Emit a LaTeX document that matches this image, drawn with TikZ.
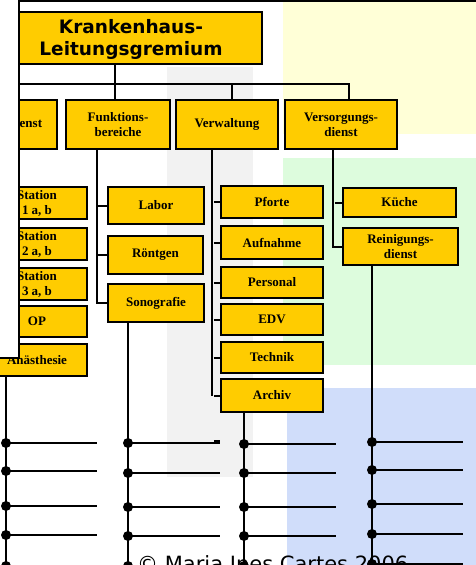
\documentclass[tikz,border=0pt]{standalone}
\usepackage{fontspec}
\setmainfont{Liberation Serif}
\newfontfamily\headfont{DejaVu Sans}
\definecolor{boxyellow}{HTML}{FFCC00}
\definecolor{bggray}{HTML}{F2F2F2}
\definecolor{bgyellow}{HTML}{FFFFD7}
\definecolor{bggreen}{HTML}{DDFCDD}
\definecolor{bgblue}{HTML}{D0DDFA}
\tikzset{
  unit/.style={draw=black, line width=2.4pt, fill=boxyellow, inner sep=0pt,
    align=center, font=\bfseries\fontsize{13}{15}\selectfont},
  sz/.style 2 args={minimum width=#1pt, minimum height=#2pt},
  link/.style={draw=black, line width=2pt},
  frame/.style={draw=black, line width=2.2pt},
  dot/.style={circle, fill=black, minimum size=10pt, inner sep=0pt},
}
\begin{document}
\begin{tikzpicture}[x=1pt,y=-1pt]
\useasboundingbox (0,0) rectangle (476,565);
\clip (0,0) rectangle (476,565);

% coloured background panels
\fill[bggray]   (167,67)  rectangle (253,477);
\fill[bgyellow] (283,2)   rectangle (476,134);
\fill[bggreen]  (283,158) rectangle (476,365);
\fill[bgblue]   (287,388) rectangle (476,565);

% Pflegedienst column, partly covered by the left panel
\node[unit, sz={97}{49}]  (pd)  at (8.5,124.5) {Pflegedienst};
\node[unit, sz={100}{32}] (st1) at (37,203)   {Station\\1 a, b};
\node[unit, sz={100}{32}] (st2) at (37,244)   {Station\\2 a, b};
\node[unit, sz={100}{32}] (st3) at (37,284)   {Station\\3 a, b};
\node[unit, sz={100}{31}] (op)  at (37,321.5) {OP};
\node[unit, sz={100}{32}] (an)  at (37,360)   {Anästhesie};

% left panel with its frame
\fill[white] (-5,-5) rectangle (19,358);
\draw[frame] (480,1) -- (19,1) -- (19,358) -- (-5,358);

% top box
\node[unit, sz={243}{52}] (kh) at (140.5,38) {};
\node[font=\headfont\bfseries\fontsize{18.5}{22}\selectfont, align=center, inner sep=0pt]
  (khtext) at (131,39) {Krankenhaus-\\Leitungsgremium};

% second level
\node[unit, sz={104}{49}] (fb) at (118,124.5) {Funktions-\\bereiche};
\node[unit, sz={102}{49}] (vw) at (227,124.5) {Verwaltung};
\node[unit, sz={112}{49}] (vd) at (341,124.5) {Versorgungs-\\dienst};

\coordinate (jl) at (19,84);
\coordinate (jf) at (115,84);
\coordinate (jv) at (232,84);
\coordinate (jd) at (349,84);
\draw[link] (kh.south -| jf) -- (jf |- fb.north);
\draw[link] (jl) -- (jd) -- (jd |- vd.north);
\draw[link] (jv) -- (jv |- vw.north);

% Funktionsbereiche
\node[unit, sz={96}{37}] (lab) at (156,205.5) {Labor};
\node[unit, sz={95}{38}] (rg)  at (155.5,255) {Röntgen};
\node[unit, sz={96}{38}] (so)  at (156,303)   {Sonografie};
\coordinate (fx) at (97,0);
\draw[link] (fb.south -| fx) -- (fx |- so.west) -- (so.west);
\draw[link] (fx |- lab.west) -- (lab.west);
\draw[link] (fx |- rg.west) -- (rg.west);

% Verwaltung
\node[unit, sz={102}{32}] (pf)  at (272,202)   {Pforte};
\node[unit, sz={102}{33}] (au)  at (272,242.5) {Aufnahme};
\node[unit, sz={102}{31}] (pe)  at (272,282.5) {Personal};
\node[unit, sz={102}{31}] (edv) at (272,319.5) {EDV};
\node[unit, sz={102}{31}] (te)  at (272,357.5) {Technik};
\node[unit, sz={102}{33}] (ar)  at (272,395.5) {Archiv};
\coordinate (vx) at (212,0);
\draw[link] (vw.south -| vx) -- (vx |- ar.west);
\foreach \n in {pf,au,pe,edv,te,ar}
  \draw[link] ([xshift=-6pt]\n.west) -- (\n.west);

% Versorgungsdienst
\node[unit, sz={113}{29}] (kue) at (399.5,202.5) {Küche};
\node[unit, sz={115}{37}] (rd)  at (400.5,246.5) {Reinigungs-\\dienst};
\coordinate (dx) at (333,0);
\draw[link] (vd.south -| dx) -- (dx |- rd.west) -- (rd.west);
\draw[link] ([xshift=-7pt]kue.west) -- (kue.west);

% lower lines with their branches
\coordinate (ba) at (6,575);
\coordinate (bb) at (128,575);
\coordinate (bc) at (244,575);
\coordinate (bd) at (372,575);
\draw[link] (an.south -| ba) -- (ba);
\draw[link] (so.south -| bb) -- (bb);
\draw[link] (ar.south -| bc) -- (bc);
\draw[link] (rd.south -| bd) -- (bd);

\foreach \y [count=\i] in {443,471,506,535,566} {
  \node[dot] (pa\i) at (6,\y) {};
  \coordinate (pe\i) at (97,\y);
  \draw[link] (pa\i.center) -- (pe\i);
}
\foreach \y [count=\i] in {443,473,507,536,566} {
  \node[dot] (fa\i) at (128,\y) {};
  \coordinate (fe\i) at (220,\y);
  \draw[link] (fa\i.center) -- (fe\i);
}
\foreach \y [count=\i] in {444,473,507,536,566} {
  \node[dot] (va\i) at (244,\y) {};
  \coordinate (ve\i) at (336,\y);
  \draw[link] (va\i.center) -- (ve\i);
}
\foreach \y [count=\i] in {442,470,504,534,564} {
  \node[dot] (da\i) at (372,\y) {};
  \coordinate (de\i) at (463,\y);
  \draw[link] (da\i.center) -- (de\i);
}
\coordinate (ts) at (214,440.5);
\coordinate (te) at (220,440.5);
\draw[link] (ts) -- (te);

% copyright line
\node[font=\headfont\fontsize{21}{25}\selectfont, anchor=base west, inner sep=0pt]
  (copy) at (137,571) {© Maria Ines Cartes 2006};
\end{tikzpicture}
\end{document}
